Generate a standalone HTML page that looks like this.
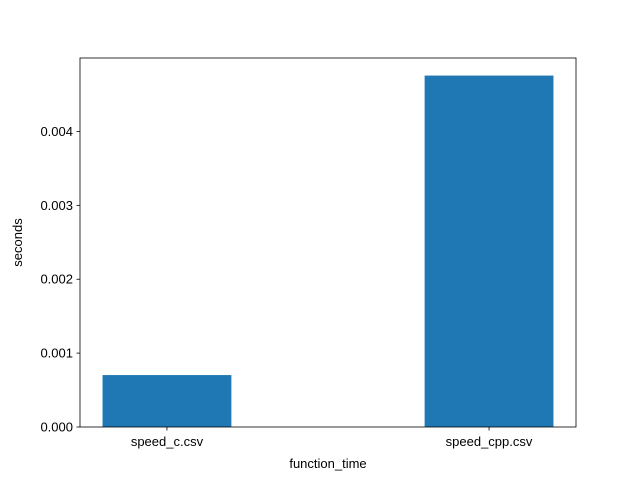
<!DOCTYPE html>
<html><head><meta charset="utf-8"><style>
body{margin:0;background:#fff;}
svg{display:block;font-family:"Liberation Sans","DejaVu Sans",sans-serif;}
</style></head><body>
<svg id="chart" width="640" height="480" viewBox="0 0 640 480">
<rect width="640" height="480" fill="#fff"/>
<g id="plot"></g>
</svg>
<script>
const categories = ["speed_c.csv", "speed_cpp.csv"];
const values = [0.000703, 0.004757];
const yTicks = [0, 0.001, 0.002, 0.003, 0.004];
const yTickLabels = ["0.000", "0.001", "0.002", "0.003", "0.004"];

const NS = "http://www.w3.org/2000/svg";
const g = document.getElementById("plot");
const L = 80, R = 576, T = 58, B = 427;
const yMax = Math.max(...values) * 1.05;
const xMin = -0.27, xMax = (categories.length - 1) + 0.27;
const sx = v => L + (v - xMin) / (xMax - xMin) * (R - L);
const sy = v => B - v / yMax * (B - T);
function mk(tag, attrs, text) {
  const e = document.createElementNS(NS, tag);
  for (const k in attrs) e.setAttribute(k, attrs[k]);
  if (text !== undefined) e.textContent = text;
  g.appendChild(e);
  return e;
}
categories.forEach((c, i) => {
  const x0 = sx(i - 0.2), x1 = sx(i + 0.2);
  const b = mk("rect", {x: x0, y: sy(values[i]), width: x1 - x0, height: B - sy(values[i]), fill: "#1f77b4"});
  
  
  const t = mk("line", {x1: sx(i), x2: sx(i), y1: B, y2: B + 3.5, stroke: "#000", "stroke-width": 0.8});
  
  
  const lb = mk("text", {x: sx(i), y: B + 19, "text-anchor": "middle", "font-size": 13}, c);
  
  
});
yTicks.forEach((v, i) => {
  const t = mk("line", {x1: L - 3.5, x2: L, y1: sy(v), y2: sy(v), stroke: "#000", "stroke-width": 0.8});
  
  
  const lb = mk("text", {x: L - 7, y: sy(v) + 4.5, "text-anchor": "end", "font-size": 13}, yTickLabels[i]);
  
  
});
const frame = mk("rect", {x: L, y: T, width: R - L, height: B - T, fill: "none", stroke: "#000", "stroke-width": 0.8});


const xt = mk("text", {x: (L + R) / 2, y: 468, "text-anchor": "middle", "font-size": 13}, "function_time");


const yt = mk("text", {x: 22, y: (T + B) / 2, "text-anchor": "middle", "font-size": 13, transform: "rotate(-90 22 " + (T + B) / 2 + ")"}, "seconds");


</script>
</body></html>
